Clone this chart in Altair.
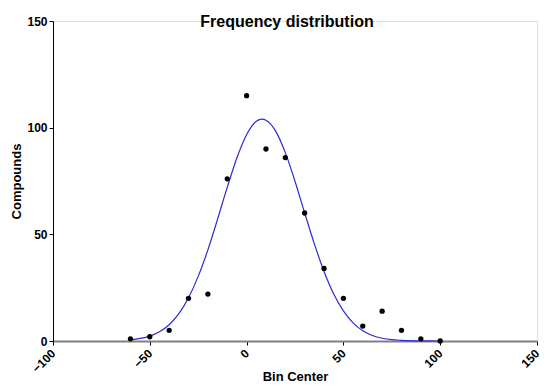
import altair as alt
import pandas as pd

bin_center = [-60, -50, -40, -30, -20, -10, 0, 10, 20, 30, 40, 50, 60, 70, 80, 90, 100]
compounds = [1, 2, 5, 20, 22, 76, 115, 90, 86, 60, 34, 20, 7, 14, 5, 1, 0]

curve_x = [-60, -55, -50, -45, -40, -35, -30, -25, -20, -15, -10, -5, 0, 5, 8, 10, 15, 20, 25, 30,
           35, 40, 45, 50, 55, 60, 65, 70, 75, 80, 90, 100]
curve_y = [0.55, 1.2, 2.3, 4.3, 7.6, 12.8, 20.3, 30.3, 42.7, 57.1, 72.0, 85.9, 96.7, 103.0, 104.0, 103.5,
           98.4, 88.3, 74.9, 60.0, 45.5, 32.6, 22.0, 14.1, 8.5, 4.8, 2.6, 1.3, 0.6, 0.3, 0.05, 0.0]

pts = pd.DataFrame({"x": bin_center, "y": compounds})
crv = pd.DataFrame({"x": curve_x, "y": curve_y})

FONT = "Liberation Sans"

xscale = alt.Scale(domain=[-100, 150], nice=False, zero=False)
yscale = alt.Scale(domain=[0, 150], nice=False)

xaxis = alt.Axis(values=[-100, -50, 0, 50, 100, 150], title="Bin Center", labelAngle=-45,
                 labelAlign="right", labelBaseline="middle",
                 labelFont=FONT, labelFontWeight="bold", labelFontSize=12, labelColor="black",
                 titleFont=FONT, titleFontWeight="bold", titleFontSize=13, titleColor="black",
                 domainColor="#808080", domainWidth=2, tickColor="black", tickSize=4,
                 grid=False, titleBaseline="bottom", titleY=42, labelPadding=6, labelFlush=False)
yaxis = alt.Axis(values=[0, 50, 100, 150], title="Compounds",
                 labelFont=FONT, labelFontWeight="bold", labelFontSize=12, labelColor="black",
                 titleFont=FONT, titleFontWeight="bold", titleFontSize=13, titleColor="black",
                 domainColor="black", tickColor="black", tickSize=4, grid=False,
                 labelPadding=2, titlePadding=3, labelFlush=False)

line = alt.Chart(crv).mark_line(color="#2b2bd6", strokeWidth=1.2, interpolate="monotone").encode(
    x=alt.X("x:Q", scale=xscale, axis=xaxis),
    y=alt.Y("y:Q", scale=yscale, axis=yaxis),
)
points = alt.Chart(pts).mark_circle(color="black", size=28, opacity=1).encode(
    x=alt.X("x:Q", scale=xscale),
    y=alt.Y("y:Q", scale=yscale),
)

chart = alt.layer(line, points).properties(
    width=484, height=320,
    title=alt.TitleParams("Frequency distribution", font=FONT, fontSize=16, fontWeight="bold",
                          color="black", anchor="middle", dx=-8, offset=-15),
    autosize=alt.AutoSizeParams(type="none"),
    padding={"left": 45, "top": 13, "right": 4, "bottom": 43},
).configure_view(stroke=None).configure(background="white")

chart.save("out.html", embed_options={"renderer": "svg", "actions": False})
